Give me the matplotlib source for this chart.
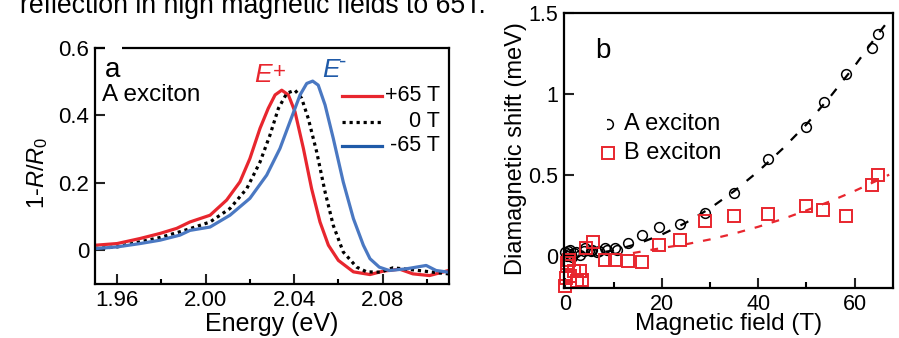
import numpy as np
import matplotlib
matplotlib.use('Agg')
import matplotlib.pyplot as plt
from matplotlib.patches import Rectangle

plt.rcParams['font.family'] = ['Liberation Sans', 'DejaVu Sans']
plt.rcParams['mathtext.fontset'] = 'custom'
plt.rcParams['mathtext.rm'] = 'Liberation Sans'
plt.rcParams['mathtext.it'] = 'Liberation Sans:italic'

# ---- panel a: reflectance spectra ----
energy_pos = [1.9501, 1.96, 1.9704, 1.9794, 1.9869, 1.9929, 2.002, 2.0095, 2.0155, 2.020,
              2.0246, 2.0283, 2.0314, 2.0344, 2.0374, 2.0404, 2.0442, 2.0479, 2.0517, 2.0555,
              2.060, 2.0668, 2.0743, 2.0802, 2.0877, 2.0937, 2.1012, 2.1098]
refl_pos = [0.015, 0.02, 0.035, 0.05, 0.065, 0.084, 0.104, 0.149, 0.203, 0.272,
            0.362, 0.421, 0.461, 0.475, 0.461, 0.411, 0.302, 0.183, 0.084, 0.015,
            -0.030, -0.064, -0.072, -0.062, -0.056, -0.07, -0.075, -0.06]

energy_zero = [1.9501, 1.96, 1.9704, 1.9794, 1.9884, 1.9929, 2.002, 2.011, 2.0186, 2.0246,
               2.0291, 2.0329, 2.0367, 2.0404, 2.0434, 2.0464, 2.0502, 2.054, 2.0577, 2.0622,
               2.0683, 2.0728, 2.0790, 2.0847, 2.0937, 2.1028, 2.1098]
refl_zero = [0.005, 0.01, 0.025, 0.038, 0.055, 0.064, 0.084, 0.124, 0.183, 0.262,
             0.342, 0.421, 0.466, 0.475, 0.451, 0.391, 0.292, 0.173, 0.074, -0.005,
             -0.050, -0.064, -0.065, -0.052, -0.058, -0.065, -0.07]

energy_neg = [1.9501, 1.96, 1.9704, 1.9794, 1.9884, 1.9929, 2.002, 2.011, 2.020, 2.0276,
              2.0336, 2.0381, 2.0427, 2.0457, 2.0484, 2.0509, 2.054, 2.0577, 2.0622, 2.0668,
              2.0713, 2.0743, 2.0785, 2.0830, 2.0907, 2.0997, 2.1042, 2.1098]
refl_neg = [0.005, 0.01, 0.02, 0.03, 0.045, 0.059, 0.069, 0.104, 0.154, 0.223,
            0.302, 0.381, 0.461, 0.495, 0.502, 0.490, 0.431, 0.332, 0.203, 0.094,
            0.015, -0.025, -0.05, -0.06, -0.055, -0.045, -0.06, -0.065]

# ---- panel b: diamagnetic shift ----
field_A = [0.0, 0.3, 0.5, 0.8, 1.0, 1.3, 1.7, 2.2, 3.1, 3.8, 4.1, 5.2, 5.5, 6.6, 6.9,
           8.3, 8.6, 10.3, 10.7, 13.0, 15.9, 19.4, 23.7, 29.0, 35.0, 42.1, 49.9,
           53.6, 58.3, 63.7, 64.8]
shift_A = [0.02, -0.005, 0.03, 0.01, 0.035, -0.01, 0.016, 0.025, 0.006, 0.027, 0.047,
           0.027, 0.037, 0.023, 0.027, 0.047, 0.037, 0.047, 0.037, 0.078, 0.126, 0.175,
           0.198, 0.263, 0.387, 0.597, 0.792, 0.947, 1.123, 1.282, 1.368]

field_B = [-0.2, 0.2, 0.3, 0.35, 0.7, 1.0, 1.7, 2.4, 3.1, 3.4, 4.3, 5.7, 8.3, 10.3,
           13.0, 15.9, 19.4, 23.7, 29.0, 35.0, 42.1, 49.9, 53.4, 58.3, 63.6, 64.8]
shift_B = [-0.185, -0.138, -0.066, -0.045, -0.025, -0.128, -0.095, -0.158, -0.097, -0.148,
           0.047, 0.082, -0.025, -0.025, -0.035, -0.039, 0.068, 0.099, 0.212, 0.243,
           0.257, 0.305, 0.284, 0.247, 0.434, 0.50]

fit_field_A = [0, 5, 10, 15, 20, 25, 30, 35, 40, 45, 50, 55, 60, 65, 67.2]
fit_shift_A = [0.0, 0.008, 0.032, 0.073, 0.13, 0.203, 0.292, 0.398, 0.52, 0.658, 0.81,
               0.983, 1.17, 1.373, 1.457]
fit_field_B = [14, 20, 25, 30, 35, 40, 45, 50, 55, 60, 65, 67.2]
fit_shift_B = [0.016, 0.047, 0.07, 0.1, 0.136, 0.178, 0.225, 0.279, 0.336, 0.399,
               0.468, 0.50]

red = '#e8262e'
blue = '#4a78c2'
blue_dark = '#1f5aa8'

fig = plt.figure(figsize=(8.99, 3.38), dpi=100)
fig.text(20 / 899, 1 - 12.7 / 338, 'reflection in high magnetic fields to 65T.',
         fontsize=19.2, va='baseline', ha='left')

# panel a
ax = fig.add_axes([0.1057, 0.1598, 0.3937, 0.698])
ax.plot(energy_pos, refl_pos, color=red, lw=2.3)
ax.plot(energy_zero, refl_zero, color='black', lw=2.3, ls=(0, (1, 1.2)))
ax.plot(energy_neg, refl_neg, color=blue, lw=2.3)
ax.set_xlim(1.95, 2.11)
ax.set_ylim(-0.1, 0.6)
ax.set_xticks([1.96, 2.00, 2.04, 2.08])
ax.set_xticklabels(['1.96', '2.00', '2.04', '2.08'])
ax.set_xticks([1.98, 2.02, 2.06, 2.10], minor=True)
ax.set_yticks([0, 0.2, 0.4, 0.6])
ax.set_yticklabels(['0', '0.2', '0.4', '0.6'])
ax.tick_params(direction='in', length=7, width=1.5, labelsize=16, pad=4, color='#222222')
ax.tick_params(which='minor', direction='in', length=3.5, width=1.5)
for s in ax.spines.values():
    s.set_linewidth(1.6)
ax.set_xlabel('Energy (eV)', fontsize=18)
ax.xaxis.set_label_coords(0.5, -0.12)
ax.set_ylabel('1-$R$/$R_0$', fontsize=17)
ax.yaxis.set_label_coords(-0.127, 0.47)

ax.add_patch(Rectangle((0.028, 0.97), 0.048, 0.05, transform=ax.transAxes,
                       fc='white', ec='none', clip_on=False, zorder=5))
ax.text(0.028, 0.877, 'a', transform=ax.transAxes, fontsize=20, va='baseline', zorder=6)
ax.text(0.02, 0.80, 'A exciton', transform=ax.transAxes, fontsize=17.5, va='center')
# peak labels E+ / E-
ax.text(2.0219, 0.499, 'E', style='italic', color=red, fontsize=19, ha='left', va='baseline')
ax.text(2.0303, 0.512, '+', color=red, fontsize=16, ha='left', va='baseline')
ax.text(2.0526, 0.514, 'E', style='italic', color=blue_dark, fontsize=19, ha='left', va='baseline')
ax.text(2.0605, 0.542, '-', color=blue_dark, fontsize=16, ha='left', va='baseline')

leg_rows = [('+65 T', red, '-', 0.797), ('0 T', 'black', (0, (1, 1.2)), 0.688),
            ('-65 T', blue_dark, '-', 0.586)]
for lab, col, ls, yy in leg_rows:
    ax.plot([0.698, 0.811], [yy, yy], transform=ax.transAxes, color=col, ls=ls, lw=2.3)
    ax.text(0.975, yy, lab, transform=ax.transAxes, fontsize=15.5, ha='right', va='center')

# panel b
bx = fig.add_axes([0.6274, 0.1479, 0.3660, 0.8145])
bx.plot(fit_field_A, fit_shift_A, color='black', lw=1.6, ls=(0, (4, 5)))
bx.plot(fit_field_B, fit_shift_B, color=red, lw=1.6, ls=(0, (3.5, 4.5)))
bx.plot(field_A, shift_A, 'o', mfc='none', mec='black', ms=7, mew=1.1, clip_on=False)
bx.plot(field_B, shift_B, 's', mfc='none', mec=red, ms=9, mew=1.4, clip_on=False)
bx.set_xlim(-0.3, 68)
bx.set_ylim(-0.2, 1.5)
bx.set_xticks([0, 20, 40, 60])
bx.set_xticks([10, 30, 50], minor=True)
bx.set_yticks([0, 0.5, 1, 1.5])
bx.set_yticklabels(['0', '0.5', '1', '1.5'])
bx.tick_params(direction='in', length=7, width=1.5, labelsize=15.5, pad=4, color='#222222')
bx.tick_params(which='minor', direction='in', length=4.5, width=1.5)
for s in bx.spines.values():
    s.set_linewidth(1.6)
bx.set_xlabel('Magnetic field (T)', fontsize=17.5)
bx.xaxis.set_label_coords(0.5, -0.09)
bx.set_ylabel('Diamagnetic shift (meV)', fontsize=17)
bx.yaxis.set_label_coords(-0.112, 0.505)

bx.text(0.094, 0.834, 'b', transform=bx.transAxes, fontsize=20, va='baseline')
bx.plot([0.134], [0.595], 'o', transform=bx.transAxes, mfc='none', mec='black', ms=7, mew=1.1)
bx.add_patch(Rectangle((0.115, 0.57), 0.016, 0.05, transform=bx.transAxes,
                       fc='white', ec='none', zorder=5))
bx.plot([0.134], [0.49], 's', transform=bx.transAxes, mfc='none', mec=red, ms=9, mew=1.4)
bx.text(0.182, 0.595, 'A exciton', transform=bx.transAxes, fontsize=17, va='center')
bx.text(0.182, 0.49, 'B exciton', transform=bx.transAxes, fontsize=17, va='center')

fig.savefig('out.png', dpi=100)
